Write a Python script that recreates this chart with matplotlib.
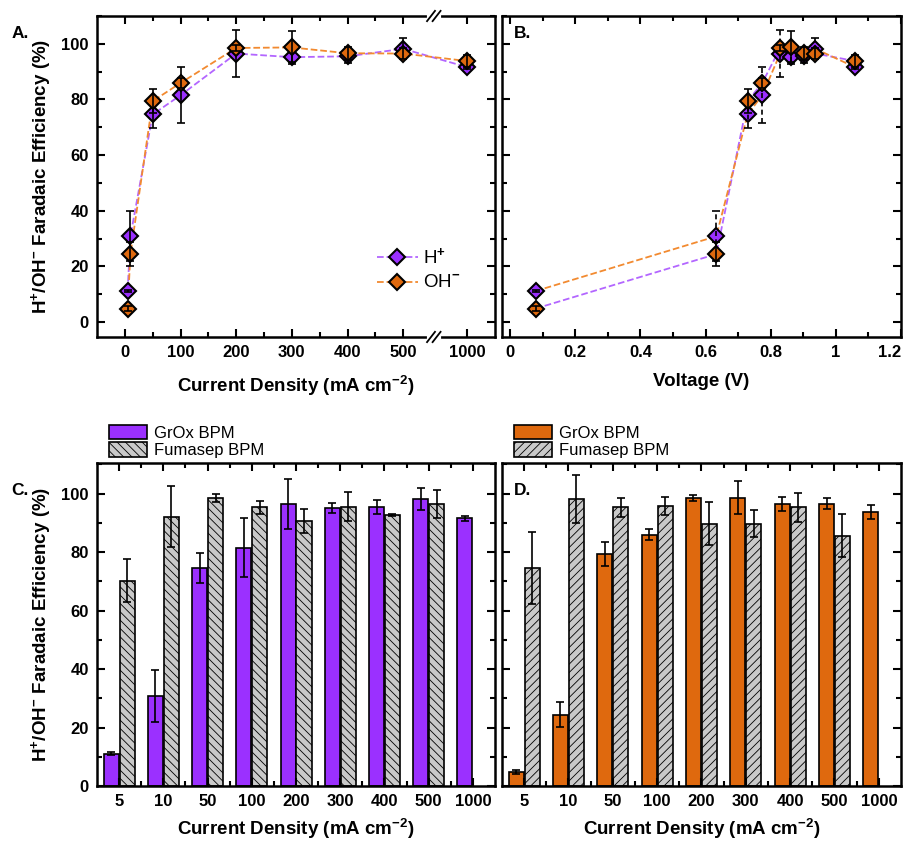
import numpy as np
import matplotlib
matplotlib.use('Agg')
import matplotlib.pyplot as plt
from matplotlib.lines import Line2D
from matplotlib.ticker import FixedLocator, MultipleLocator

plt.rcParams.update({
    'font.family': 'Liberation Sans',
    'font.weight': 'bold',
    'axes.labelweight': 'bold',
    'axes.linewidth': 1.8,
    'mathtext.fontset': 'custom',
    'mathtext.rm': 'Liberation Sans',
    'mathtext.bf': 'Liberation Sans:bold',
    'hatch.linewidth': 0.6,
})

PURPLE = '#9b30ff'
ORANGE = '#df690e'
PURPLE_LN = '#b366ff'
ORANGE_LN = '#f28a30'
GRAY = '#c9c9c9'

# ---------------------------------------------------------------------------
# Data
# ---------------------------------------------------------------------------
cd_labels = ['5', '10', '50', '100', '200', '300', '400', '500', '1000']
current_density = [5, 10, 50, 100, 200, 300, 400, 500, 1000]
voltage = [0.078, 0.633, 0.729, 0.774, 0.829, 0.863, 0.903, 0.937, 1.059]

h_fe = [11.1, 30.8, 74.6, 81.5, 96.5, 95.2, 95.5, 98.2, 91.6]
h_err = [0.5, 9.0, 5.0, 10.1, 8.5, 1.7, 2.5, 3.8, 0.8]
oh_fe = [4.8, 24.4, 79.4, 85.9, 98.5, 98.7, 96.6, 96.5, 93.8]
oh_err = [0.8, 4.3, 4.2, 1.9, 1.1, 5.8, 2.4, 1.9, 2.3]

# Fumasep reference membrane (no 1000 mA cm-2 point)
fum_h = [70.3, 92.2, 98.4, 95.3, 90.6, 95.6, 92.8, 96.5, np.nan]
fum_h_err = [7.5, 10.3, 1.4, 2.2, 4.2, 4.9, 0.3, 4.9, np.nan]
fum_oh = [74.5, 98.3, 95.3, 95.7, 89.8, 89.8, 95.3, 85.7, np.nan]
fum_oh_err = [12.3, 8.2, 3.1, 3.1, 7.3, 4.6, 4.9, 7.4, np.nan]

YLABEL = r'H$^{\mathbf{+}}$/OH$^{\mathbf{-}}$ Faradaic Efficiency (%)'
XLABEL_CD = r'Current Density (mA cm$^{\mathbf{-2}}$)'
LABEL_FS = 13.5
TICK_FS = 12

fig = plt.figure(figsize=(9.1, 8.42), dpi=100)
axA = fig.add_axes([0.1066, 0.5998, 0.4374, 0.3812])
axB = fig.add_axes([0.5516, 0.5998, 0.4385, 0.3812])
axC = fig.add_axes([0.1066, 0.0665, 0.4374, 0.3836])
axD = fig.add_axes([0.5516, 0.0665, 0.4385, 0.3836])


def style(ax):
    ax.tick_params(which='both', direction='in', top=True, right=True,
                   labelsize=TICK_FS, width=1.5)
    ax.tick_params(which='major', length=6, pad=6)
    ax.tick_params(which='minor', length=3.5)


def diamonds(ax, x, y, err, color, z, dashed=False):
    ax.plot(x, y, 'D', ms=8.4, mfc=color, mec='k', mew=1.5, zorder=z)
    eb = ax.errorbar(x, y, yerr=err, fmt='none', ecolor='k', elinewidth=1.2,
                     capsize=3, capthick=1.2, zorder=z + 0.5)
    if dashed:
        eb[2][0].set_linestyle((0, (3, 2)))


# ---------------------------------------------------------------------------
# A. FE vs current density, broken x axis between 500 and 1000
# ---------------------------------------------------------------------------
BRK_LO, BRK_HI = 555, 940


def fwd(x):
    x = np.asarray(x, float)
    return np.where(x < BRK_LO, x,
                    np.where(x > BRK_HI, x - (BRK_HI - BRK_LO), BRK_LO))


def inv(y):
    y = np.asarray(y, float)
    return np.where(y <= BRK_LO, y, y + (BRK_HI - BRK_LO))


axA.set_xscale('function', functions=(fwd, inv))
axA.plot(current_density, h_fe, '--', color=PURPLE_LN, lw=1.3, zorder=2)
axA.plot(current_density, oh_fe, '--', color=ORANGE_LN, lw=1.3, zorder=2)
diamonds(axA, current_density, h_fe, h_err, PURPLE, 3)
diamonds(axA, current_density, oh_fe, oh_err, ORANGE, 4)
axA.set_xlim(-50, 1050)
axA.set_ylim(-5.4, 110)
axA.xaxis.set_major_locator(FixedLocator([0, 100, 200, 300, 400, 500, 1000]))
axA.xaxis.set_minor_locator(FixedLocator([50, 150, 250, 350, 450]))
axA.yaxis.set_major_locator(MultipleLocator(20))
axA.yaxis.set_minor_locator(MultipleLocator(10))
style(axA)
axA.set_xlabel(XLABEL_CD, fontsize=LABEL_FS, labelpad=9)
axA.set_ylabel(YLABEL, fontsize=LABEL_FS, labelpad=5)

# break marks on top and bottom spines
bx = (fwd(BRK_LO) + 50) / (fwd(1050) + 50)
for yy in (0, 1):
    axA.plot([bx - 0.012, bx + 0.012], [yy, yy], transform=axA.transAxes,
             color='white', lw=3, clip_on=False, zorder=10)
    for dx in (-0.007, 0.007):
        axA.plot([bx + dx - 0.01, bx + dx + 0.01], [yy - 0.016, yy + 0.016],
                 transform=axA.transAxes, color='k', lw=1.3,
                 clip_on=False, zorder=11)

handles = [
    Line2D([], [], ls='--', color=PURPLE_LN, lw=1.3, marker='D', ms=8.4,
           mfc=PURPLE, mec='k', mew=1.5),
    Line2D([], [], ls='--', color=ORANGE_LN, lw=1.3, marker='D', ms=8.4,
           mfc=ORANGE, mec='k', mew=1.5),
]
axA.legend(handles, [r'H$^{+}$', r'OH$^{-}$'], loc='center left',
           bbox_to_anchor=(0.66, 0.21), frameon=False,
           prop={'weight': 'normal', 'size': 13.5}, handlelength=2.2,
           handletextpad=0.3, labelspacing=0.4)
axA.text(-0.215, 0.93, 'A.', transform=axA.transAxes, fontsize=12.5)

# ---------------------------------------------------------------------------
# B. FE vs voltage (dashed guide lines follow the original figure's pairing)
# ---------------------------------------------------------------------------
axB.plot(voltage, oh_fe, '--', color=PURPLE_LN, lw=1.3, zorder=2)
axB.plot(voltage, h_fe, '--', color=ORANGE_LN, lw=1.3, zorder=2)
diamonds(axB, voltage, h_fe, h_err, PURPLE, 3, dashed=True)
diamonds(axB, voltage, oh_fe, oh_err, ORANGE, 4)
axB.set_xlim(-0.025, 1.2)
axB.set_ylim(-5.4, 110)
vt = [0, 0.2, 0.4, 0.6, 0.8, 1.0, 1.2]
axB.xaxis.set_major_locator(FixedLocator(vt))
axB.set_xticklabels(['0', '0.2', '0.4', '0.6', '0.8', '1', '1.2'])
axB.xaxis.set_minor_locator(MultipleLocator(0.1))
axB.yaxis.set_major_locator(MultipleLocator(20))
axB.yaxis.set_minor_locator(MultipleLocator(10))
style(axB)
axB.tick_params(labelleft=False)
axB.get_xticklabels()[-1].set_horizontalalignment('right')
axB.set_xlabel('Voltage (V)', fontsize=LABEL_FS, labelpad=9)
axB.text(0.03, 0.93, 'B.', transform=axB.transAxes, fontsize=12.5)

# ---------------------------------------------------------------------------
# C / D. grouped bars, GrOx vs Fumasep
# ---------------------------------------------------------------------------
x = np.arange(len(cd_labels))
W = 0.34
OFF = 0.18


def bars(ax, grox, grox_err, fum, fum_err, color, hatch, letter, inside):
    ax.bar(x - OFF, grox, W, color=color, edgecolor='k', lw=1.2,
           label='GrOx BPM', zorder=1)
    ax.bar(x + OFF, fum, W, color=GRAY, edgecolor='k', lw=1.2, hatch=hatch,
           label='Fumasep BPM', zorder=1)
    ax.errorbar(x - OFF, grox, yerr=grox_err, fmt='none', ecolor='k',
                elinewidth=1.2, capsize=3, capthick=1.2, zorder=3)
    ax.errorbar(x + OFF, fum, yerr=fum_err, fmt='none', ecolor='k',
                elinewidth=1.2, capsize=3, capthick=1.2, zorder=3)
    ax.set_xlim(-0.5, len(cd_labels) - 0.5)
    ax.set_ylim(0, 110.5)
    ax.set_xticks(x)
    ax.set_xticklabels(cd_labels)
    ax.xaxis.set_minor_locator(FixedLocator(x[:-1] + 0.5))
    ax.yaxis.set_major_locator(MultipleLocator(20))
    ax.yaxis.set_minor_locator(MultipleLocator(10))
    style(ax)
    ax.set_xlabel(XLABEL_CD, fontsize=LABEL_FS, labelpad=5)
    ax.legend(loc='lower left', bbox_to_anchor=(0.03, 1.015), frameon=False,
              borderpad=0, borderaxespad=0, prop={'weight': 'normal', 'size': 12},
              handlelength=2.3, handleheight=0.95, handletextpad=0.4,
              labelspacing=0.1)
    if inside:
        ax.text(0.03, 0.9, letter, transform=ax.transAxes, fontsize=12.5)
    else:
        ax.text(-0.215, 0.9, letter, transform=ax.transAxes, fontsize=12.5)


bars(axC, h_fe, h_err, fum_h, fum_h_err, PURPLE, '\\\\\\\\', 'C.', False)
axC.set_ylabel(YLABEL, fontsize=LABEL_FS, labelpad=5)
bars(axD, oh_fe, oh_err, fum_oh, fum_oh_err, ORANGE, '////', 'D.', True)
axD.tick_params(labelleft=False)

fig.savefig('out.png', dpi=100)
